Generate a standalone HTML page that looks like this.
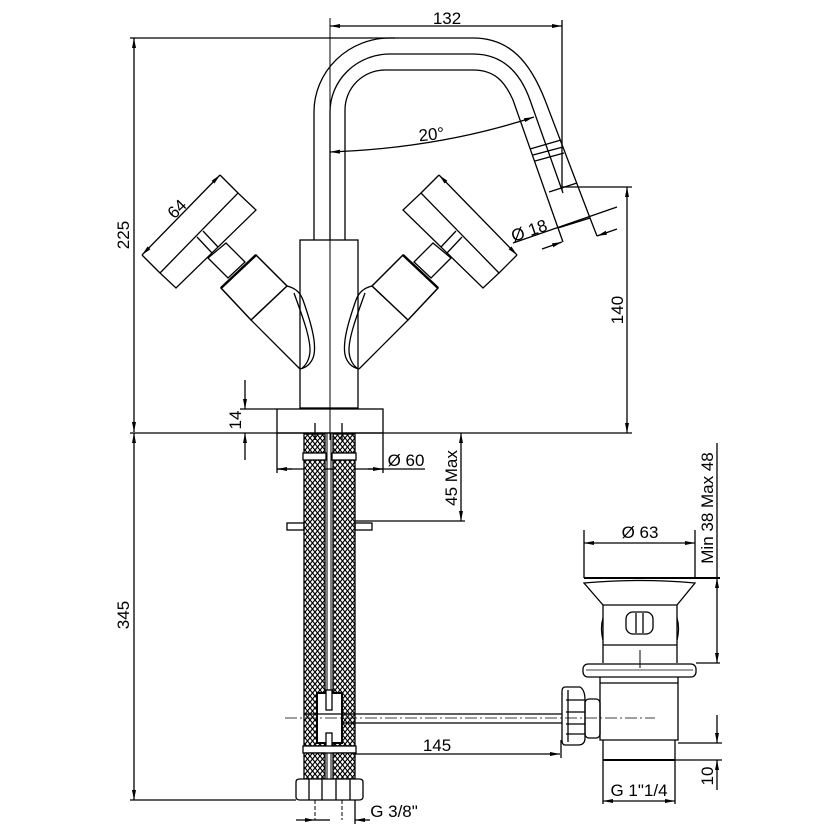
<!DOCTYPE html>
<html><head><meta charset="utf-8"><style>
html,body{margin:0;padding:0;background:#fff;}
svg{display:block;}
text{font-family:"Liberation Sans",sans-serif;font-size:17px;fill:#000;}
</style></head><body>
<svg width="840" height="840" viewBox="0 0 840 840" xmlns="http://www.w3.org/2000/svg">
<defs>
<pattern id="mesh" width="5" height="6" patternUnits="userSpaceOnUse">
<rect width="5" height="6" fill="#fff"/>
<path d="M0,0 L5,6 M5,0 L0,6" stroke="#000" stroke-width="1.2"/>
</pattern>
<marker id="a" viewBox="0 0 10 6" refX="10" refY="3" markerWidth="10" markerHeight="6" orient="auto-start-reverse" markerUnits="userSpaceOnUse">
<path d="M0,1 L10,3 L0,5 Z" fill="#000"/></marker>
</defs>
<g fill="none" stroke="#000" stroke-width="1.3">
<line x1="330" y1="18" x2="330" y2="440" stroke-width="1"/>
<line x1="330" y1="26" x2="562" y2="26" marker-start="url(#a)" marker-end="url(#a)"/>
<line x1="562" y1="20" x2="562" y2="190"/>
<line x1="134" y1="38" x2="134" y2="432" marker-start="url(#a)" marker-end="url(#a)"/>
<line x1="130" y1="38" x2="395" y2="38"/>
<line x1="130" y1="433" x2="632" y2="433"/>
<line x1="562" y1="187" x2="632" y2="187"/>
<line x1="627" y1="187" x2="627" y2="433" marker-start="url(#a)" marker-end="url(#a)"/>
<path d="M314,240 L314,112 A76,74 0 0 1 390,38 L473,38 C510,38 530,62 545,100 L590,218"/>
<path d="M330,240 L330,112 A60,58 0 0 1 390,54 L473,54 C502,54 520,72 530,100 L563,193"/>
<path d="M345,240 L345,110 A40,40 0 0 1 385,70 L473,70 C495,70 505,82 513,100 L558,228"/>
<line x1="558" y1="228" x2="590" y2="218"/>
<line x1="530" y1="149" x2="561" y2="140"/>
<line x1="533" y1="155" x2="563" y2="147"/>
<line x1="535" y1="161" x2="564" y2="153"/>
<line x1="549" y1="192" x2="577" y2="183"/>
<path d="M330,152 Q440,148 534,117" marker-start="url(#a)" marker-end="url(#a)"/>
<line x1="558" y1="228" x2="563" y2="242"/>
<line x1="590" y1="218" x2="597" y2="236"/>
<line x1="513" y1="243" x2="617" y2="207"/>
<line x1="542" y1="249" x2="562" y2="242" marker-end="url(#a)"/>
<line x1="617" y1="229" x2="597" y2="236" marker-end="url(#a)"/>
<rect x="300" y="240" width="58" height="168"/>
<rect x="277" y="409" width="106" height="24"/>
<g id="hl">
<polygon points="160,273 238,193 256,210 176,288"/>
<line x1="160" y1="273" x2="142" y2="255"/>
<line x1="238" y1="193" x2="220" y2="175"/>
<line x1="142" y1="255" x2="220" y2="175" marker-start="url(#a)" marker-end="url(#a)"/>
<line x1="203" y1="231" x2="218" y2="247"/>
<line x1="197" y1="237" x2="212" y2="253"/>
<polygon points="208,258 226,243 245,262 228,278"/>
<polygon points="221,288 256,255 287,286 251,320" stroke-width="1.5"/>
<line x1="221" y1="288" x2="256" y2="255" stroke-width="2.5"/>
<path d="M251,320 L300,369"/>
<path d="M287,286 C295,288 300,292 303,300 C310,320 318,345 313,358 C310,365 305,368 300,369"/>
<path d="M294,293 C300,310 310,335 310,350 C310,360 305,366 302,368"/>
</g>
<use href="#hl" transform="translate(659,0) scale(-1,1)"/>
<line x1="240" y1="409" x2="277" y2="409"/>
<line x1="245" y1="380" x2="245" y2="409" marker-end="url(#a)"/>
<line x1="245" y1="460" x2="245" y2="433" marker-end="url(#a)"/>
<line x1="277" y1="433" x2="277" y2="473"/>
<line x1="383" y1="433" x2="383" y2="473"/>
<line x1="277" y1="469" x2="425" y2="469"/>
<line x1="292" y1="469" x2="277" y2="469" marker-end="url(#a)"/>
<line x1="368" y1="469" x2="383" y2="469" marker-end="url(#a)"/>
<line x1="461" y1="433" x2="461" y2="521" marker-start="url(#a)" marker-end="url(#a)"/>
<line x1="355" y1="521" x2="465" y2="521"/>
<rect x="304" y="460" width="21" height="286" fill="url(#mesh)"/>
<rect x="333" y="460" width="22" height="286" fill="url(#mesh)"/>
<line x1="327" y1="433" x2="327" y2="790" stroke-width="1"/>
<line x1="331" y1="433" x2="331" y2="790" stroke-width="1"/>
<rect x="304" y="434" width="21" height="19" fill="url(#mesh)"/>
<rect x="333" y="434" width="22" height="19" fill="url(#mesh)"/>
<rect x="303" y="453" width="23" height="7" fill="#fff"/>
<rect x="332" y="453" width="24" height="7" fill="#fff"/>
<line x1="315" y1="423" x2="315" y2="440"/>
<line x1="342" y1="423" x2="342" y2="440"/>
<rect x="287" y="523" width="17" height="7"/>
<rect x="355" y="523" width="17" height="7"/>
<rect x="317" y="693" width="25" height="50" fill="#fff" stroke-width="2"/>
<rect x="326" y="690" width="6" height="20" fill="#fff"/>
<rect x="326" y="733" width="6" height="18" fill="#fff"/>
<rect x="303" y="746" width="53" height="7" fill="#fff"/>
<rect x="304" y="753" width="21" height="26" fill="url(#mesh)"/>
<rect x="333" y="753" width="22" height="26" fill="url(#mesh)"/>
<path d="M296,782 Q296,779 300,779 L359,779 Q363,779 363,782 L363,797 Q363,800 359,800 L300,800 Q296,800 296,797 Z" fill="#fff"/>
<line x1="309" y1="779" x2="309" y2="800"/><line x1="322" y1="779" x2="322" y2="800"/>
<line x1="336" y1="779" x2="336" y2="800"/><line x1="350" y1="779" x2="350" y2="800"/>
<line x1="315" y1="800" x2="315" y2="820" stroke-dasharray="4,2" stroke-width="1"/>
<line x1="342" y1="800" x2="342" y2="820" stroke-dasharray="4,2" stroke-width="1"/>
<line x1="355" y1="800" x2="355" y2="824"/>
<line x1="296" y1="820" x2="315" y2="820" marker-end="url(#a)"/>
<line x1="370" y1="820" x2="355" y2="820" marker-end="url(#a)"/>
<line x1="315" y1="820" x2="330" y2="820"/>
<line x1="134" y1="433" x2="134" y2="800" marker-start="url(#a)" marker-end="url(#a)"/>
<line x1="130" y1="800" x2="296" y2="800"/>
<line x1="285" y1="718" x2="655" y2="718" stroke-width="0.8" stroke-dasharray="12,3,2,3"/>
<line x1="304" y1="714" x2="562" y2="714"/>
<line x1="342" y1="723" x2="562" y2="723"/>
<line x1="355" y1="754" x2="560" y2="754" marker-end="url(#a)"/>
<line x1="561" y1="740" x2="561" y2="758"/>
<line x1="584" y1="530" x2="584" y2="578"/>
<line x1="695" y1="530" x2="695" y2="578"/>
<line x1="584" y1="543" x2="695" y2="543" marker-start="url(#a)" marker-end="url(#a)"/>
<line x1="584" y1="578" x2="720" y2="578" stroke-width="2"/>
<path d="M584,583 Q640,578 695,583 L677,605 L603,605 Z"/>
<path d="M603,605 L603,663 M677,605 L677,663"/>
<path d="M603,618 Q600,628 603,640 M677,618 Q680,628 677,640"/>
<line x1="603" y1="645" x2="677" y2="645"/>
<rect x="626" y="612" width="27" height="22" rx="7"/>
<line x1="636" y1="613" x2="636" y2="633"/><line x1="643" y1="613" x2="643" y2="633"/>
<line x1="640" y1="650" x2="640" y2="668" stroke-width="1"/>
<line x1="696" y1="663" x2="720" y2="663"/>
<rect x="583" y="664" width="113" height="13" rx="5"/>
<line x1="586" y1="670" x2="693" y2="670" stroke-width="0.8"/>
<path d="M600,677 L600,740 L678,740 L678,677"/>
<line x1="600" y1="683" x2="678" y2="683"/>
<line x1="603" y1="740" x2="603" y2="804"/>
<line x1="675" y1="740" x2="675" y2="804"/>
<line x1="603" y1="760" x2="675" y2="760" stroke-width="2"/>
<line x1="678" y1="743" x2="722" y2="743"/>
<line x1="675" y1="760" x2="722" y2="760"/>
<rect x="585" y="699" width="15" height="39" rx="4"/>
<path d="M565,687 L580,687 Q585,690 585,700 L585,738 Q585,745 578,745 L565,745 Q562,745 562,740 L562,692 Q562,687 565,687 Z"/>
<line x1="566" y1="700" x2="585" y2="700"/><line x1="566" y1="712" x2="585" y2="712"/>
<line x1="566" y1="724" x2="585" y2="724"/><line x1="566" y1="734" x2="585" y2="734"/>
<line x1="568" y1="690" x2="568" y2="742"/>
<line x1="603" y1="801" x2="675" y2="801" marker-start="url(#a)" marker-end="url(#a)"/>
<line x1="717" y1="443" x2="717" y2="578"/>
<line x1="717" y1="578" x2="717" y2="663" marker-start="url(#a)" marker-end="url(#a)"/>
<line x1="717" y1="715" x2="717" y2="743" marker-end="url(#a)"/>
<line x1="717" y1="790" x2="717" y2="760" marker-end="url(#a)"/>
</g>
<g>
<text x="447" y="24" text-anchor="middle">132</text>
<text x="432" y="140" text-anchor="middle" transform="rotate(-6 432 140)">20°</text>
<text transform="translate(181,213) rotate(-45)" text-anchor="middle">64</text>
<text transform="translate(531,236) rotate(-19)" text-anchor="middle">Ø 18</text>
<text transform="translate(129,235) rotate(-90)" text-anchor="middle">225</text>
<text transform="translate(623,310) rotate(-90)" text-anchor="middle">140</text>
<text transform="translate(241,420) rotate(-90)" text-anchor="middle">14</text>
<text x="406" y="466" text-anchor="middle">Ø 60</text>
<text transform="translate(457,478) rotate(-90)" text-anchor="middle">45 Max</text>
<text transform="translate(129,615) rotate(-90)" text-anchor="middle">345</text>
<text x="437" y="751" text-anchor="middle">145</text>
<text x="394" y="817" text-anchor="middle">G 3/8"</text>
<text x="640" y="538" text-anchor="middle">Ø 63</text>
<text transform="translate(713,508) rotate(-90)" text-anchor="middle">Min  38  Max  48</text>
<text x="639" y="796" text-anchor="middle">G  1"1/4</text>
<text transform="translate(713,776) rotate(-90)" text-anchor="middle">10</text>
</g>
</svg>
</body></html>
